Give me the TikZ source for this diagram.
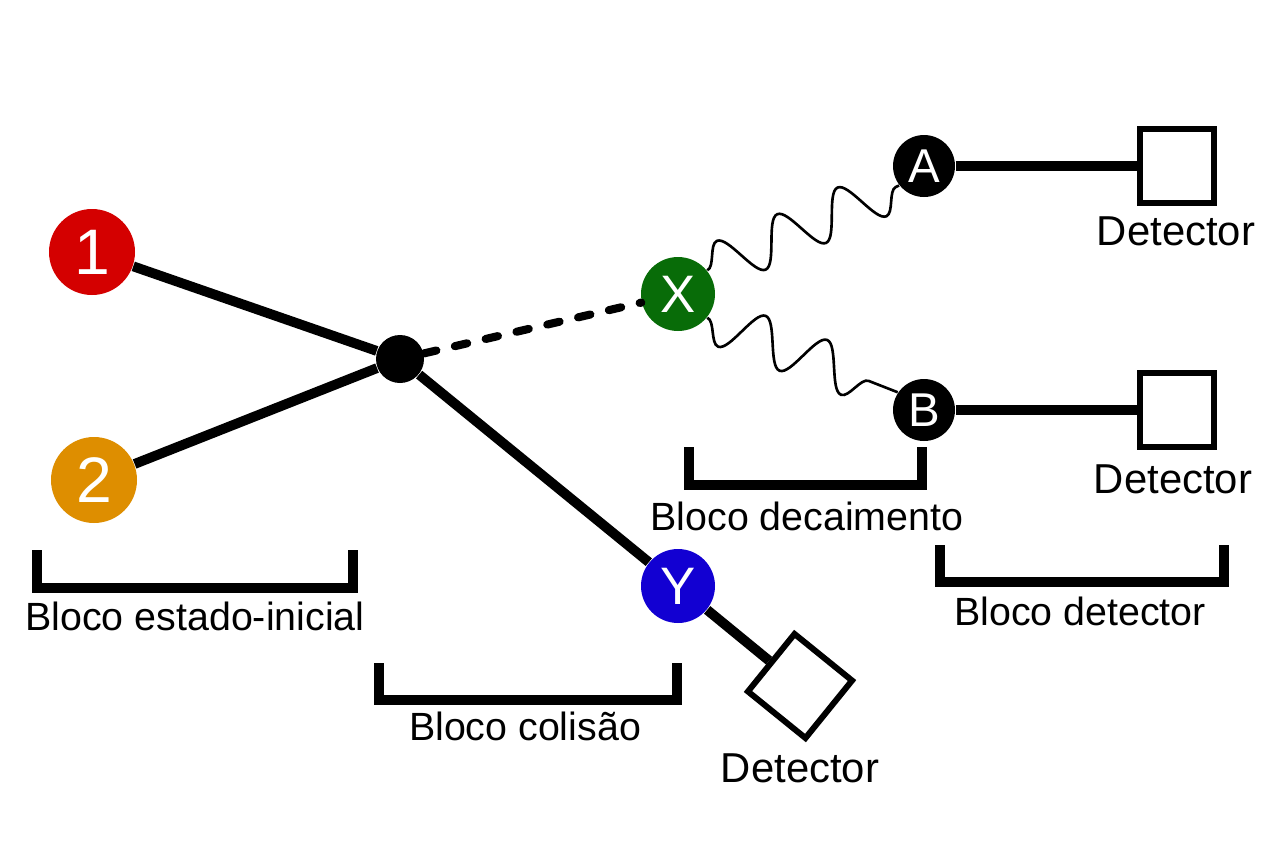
\documentclass[tikz,border=0pt]{standalone}
\usepackage{fontspec}
\setmainfont{Liberation Sans}
\usetikzlibrary{decorations.pathmorphing}
\definecolor{redpart}{RGB}{212,0,0}
\definecolor{orangepart}{RGB}{222,142,0}
\definecolor{greenpart}{RGB}{8,108,8}
\definecolor{bluepart}{RGB}{18,0,210}
\tikzset{
  part/.style={circle,inner sep=0pt,text=white},
  bigpart/.style={part,minimum size=8.6mm,font=\fontsize{18.3}{18}\selectfont},
  midpart/.style={part,minimum size=7.4mm,font=\fontsize{15}{15}\selectfont},
  smallpart/.style={part,fill=black,minimum size=6.2mm,font=\fontsize{13.5}{14}\selectfont},
  detbox/.style={draw,line width=1.7pt,minimum size=7.4mm,inner sep=0pt,fill=white},
  thickline/.style={line width=2.8pt},
  wave/.style={line width=0.75pt,decorate,decoration={snake,segment length=6.6mm,amplitude=2.3mm}},
  blockbracket/.style={line width=2.8pt,line cap=butt,line join=miter},
  blocklabel/.style={anchor=base,font=\fontsize{11.2}{13}\selectfont},
  detlabel/.style={anchor=base,font=\fontsize{11.9}{14}\selectfont}
}

\begin{document}
\begin{tikzpicture}[x=0.1mm,y=-0.1mm]
\useasboundingbox (0,0) rectangle (1280,853);
\node[bigpart,fill=redpart] (p1) at (92,252) {1};
\node[bigpart,fill=orangepart] (p2) at (94,480) {2};
\node[circle,fill=black,inner sep=0pt,minimum size=4.8mm] (vtx) at (400,359) {};
\node[midpart,fill=greenpart] (pX) at (678,294) {X};
\node[midpart,fill=bluepart] (pY) at (678,586) {Y};
\node[smallpart] (pA) at (924,166) {A};
\node[smallpart] (pB) at (924,410) {B};
\node[detbox] (detA) at (1177,166) {};
\node[detbox] (detB) at (1177,410) {};
\node[detbox,rotate=-39] (detY) at (800,686) {};
\draw[thickline] (p1)--(vtx);
\draw[thickline] (p2)--(vtx);
\draw[thickline] (vtx)--(pY);
\draw[thickline] (pY)--(detY);
\draw[line width=2.3pt,line cap=round,dash pattern=on 3.6pt off 5.4pt] (vtx)--(pX);
\draw[wave] (pX.39)--(pA.-142);
\draw[wave,decoration={mirror}] (pX.-39)--(pB.146);
\draw[thickline] (pA)--(detA);
\draw[thickline] (pB)--(detB);
\node[detlabel] (lbdetA) at (1176,245) {Detector};
\node[detlabel] (lbdetB) at (1173,493) {Detector};
\node[detlabel] (lbdetY) at (800,782) {Detector};
\draw[blockbracket] (37,550) |- (353,588) -- (353,550);
\draw[blockbracket] (379,663) |- (677,700) -- (677,663);
\draw[blockbracket] (689,447) |- (922,485) -- (922,447);
\draw[blockbracket] (940,545) |- (1224,582) -- (1224,545);
\node[blocklabel] (lbinit) at (195,630) {Bloco estado-inicial};
\node[blocklabel] (lbcol) at (525,740) {Bloco colisão};
\node[blocklabel] (lbdec) at (807,530) {Bloco decaimento};
\node[blocklabel] (lbdet) at (1080,625) {Bloco detector};
\end{tikzpicture}
\end{document}
